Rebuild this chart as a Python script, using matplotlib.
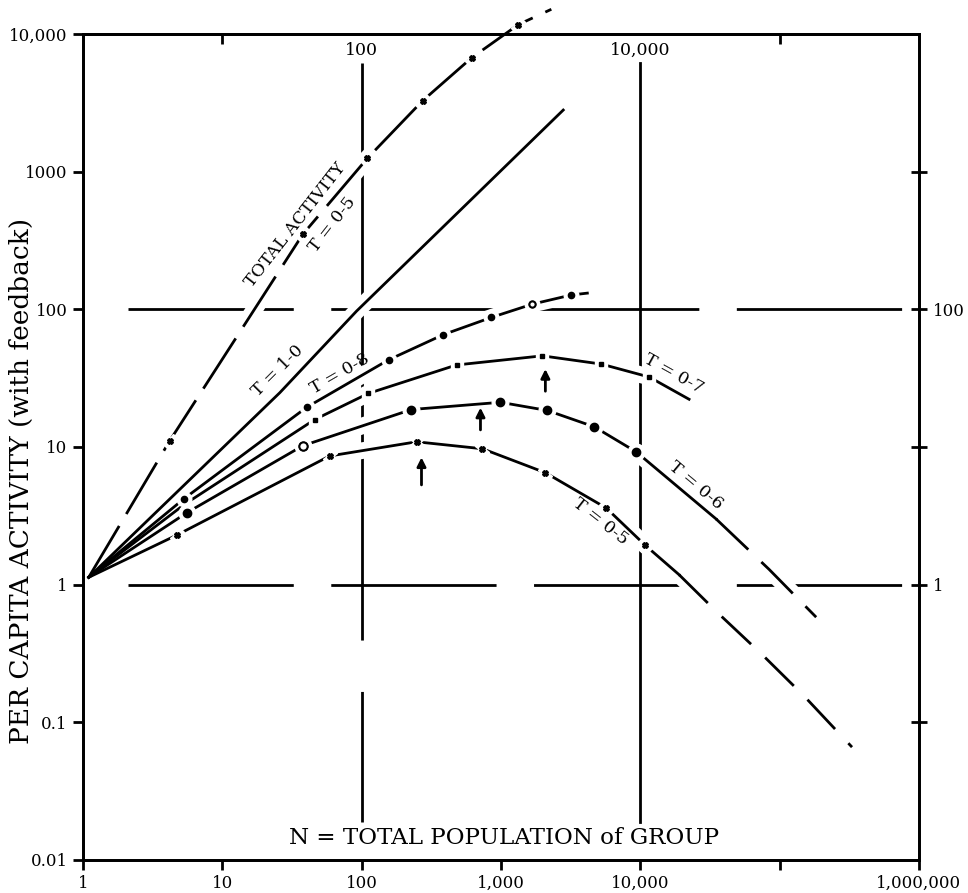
import matplotlib
matplotlib.use("Agg")
import matplotlib.pyplot as plt
from matplotlib.ticker import FixedLocator, FixedFormatter, NullLocator

plt.rcParams['font.family'] = ['DejaVu Serif']
plt.rcParams['lines.scale_dashes'] = False

# ---- data (N = population, y = per capita activity) ----
total_n = [1.1, 4.2, 37.8, 110, 274, 615, 1335, 2300]
total_y = [1.13, 11.1, 350, 1250, 3270, 6700, 11700, 15100]

t10_n = [1.1, 25.9, 92, 2800]
t10_y = [1.13, 24.8, 97, 2800]

t08_n = [1.1, 5.3, 40.3, 156, 387, 855, 1683, 3200, 4170]
t08_y = [1.13, 4.2, 19.4, 42.9, 65.5, 87.3, 109, 127, 131]

t07_n = [1.1, 5.3, 46, 112, 480, 1983, 5250, 11600, 22400]
t07_y = [1.13, 3.8, 15.8, 24.5, 39.4, 45.9, 40, 32.2, 22.2]

t06_n = [1.1, 5.57, 37.8, 228, 992, 2154, 4680, 9360, 35000]
t06_y = [1.13, 3.33, 10.2, 18.7, 21.1, 18.4, 14.0, 9.2, 3.0]
t06_tail_n = [35000, 84100, 183000]
t06_tail_y = [3.0, 1.29, 0.58]

t05_n = [1.1, 4.72, 59, 248, 737, 2084, 5700, 10860, 19000]
t05_y = [1.13, 2.29, 8.6, 10.9, 9.7, 6.5, 3.6, 1.93, 1.18]
t05_tail_n = [19000, 36200, 75000, 150000, 331000]
t05_tail_y = [1.18, 0.62, 0.31, 0.155, 0.066]

# arrows marking the maxima
arrow_n = [269, 713, 2084]
arrow_tip = [8.4, 19.3, 36.8]
arrow_tail = [5.3, 13.3, 25.4]

x_ticks = [1, 10, 100, 1000, 1e4, 1e5, 1e6]
x_tick_labels = ['1', '10', '100', '1,000', '10,000', '', '1,000,000']
y_ticks = [0.01, 0.1, 1, 10, 100, 1000, 1e4]
y_tick_labels = ['0.01', '0.1', '1', '10', '100', '1000', '10,000']
right_ticks = [0.1, 1, 10, 100, 1000]
right_tick_labels = ['', '1', '', '100', '']

ref_y = [100, 1]
ref_y_span = [2.1, 7.9e5]
ref_x = [100, 1e4]
ref_x_span = [0.019, 6100]

fig = plt.figure(figsize=(9.68, 8.93), dpi=100)
ax = fig.add_axes([0.0857, 0.037, 0.8636, 0.925])
ax.set_xscale('log')
ax.set_yscale('log')
ax.set_xlim(1, 1e6)
ax.set_ylim(0.01, 1e4)

# cross-hair reference lines (long dashes, broken where curves cross)
for yv in ref_y:
    ax.plot(ref_y_span, [yv, yv], color='k', lw=2, dashes=(119, 27), zorder=1)
ax.plot([ref_x[0]] * 2, ref_x_span, color='k', lw=2, dashes=(94, 37, 720, 10), zorder=1)
ax.plot([ref_x[1]] * 2, ref_x_span, color='k', lw=2, zorder=1)


def curve(n, y, marker=None, ms=5, idx=(), dashes=None, open_idx=(), clip=True):
    # white halo breaks the reference lines where a curve crosses them
    ax.plot(n, y, color='white', lw=12, zorder=2, solid_capstyle='butt')
    kw = dict(color='k', lw=2, zorder=3, clip_on=clip)
    if dashes:
        kw['dashes'] = dashes
    ax.plot(n, y, **kw)
    if marker:
        mn = [n[i] for i in idx]
        my = [y[i] for i in idx]
        ax.plot(mn, my, ls='none', marker=marker, ms=ms + 6, mfc='white',
                mec='white', zorder=3.5, clip_on=clip)
        ax.plot(mn, my, ls='none', marker=marker, ms=ms, mfc='k', mec='k',
                zorder=4, clip_on=clip)
        for i in open_idx:
            ax.plot(n[i], y[i], ls='none', marker='o', ms=ms, mfc='white',
                    mec='k', mew=1.5, zorder=5)


curve(total_n, total_y, marker='X', ms=4, idx=range(1, 7), dashes=(43, 10), clip=False)
curve(t10_n, t10_y)
curve(t08_n, t08_y, marker='o', ms=4.5, idx=range(1, 8), open_idx=[6])
curve(t07_n, t07_y, marker='s', ms=3.2, idx=range(2, 8))
curve(t06_n, t06_y, marker='o', ms=6, idx=range(1, 8), open_idx=[2])
curve(t06_tail_n, t06_tail_y, dashes=(32, 13))
curve(t05_n, t05_y, marker='X', ms=4, idx=range(1, 8))
curve(t05_tail_n, t05_tail_y, dashes=(29, 14))

for n, tip, tail in zip(arrow_n, arrow_tip, arrow_tail):
    ax.annotate('', xy=(n, tip), xytext=(n, tail),
                arrowprops=dict(arrowstyle='-|>', color='k', lw=2,
                                mutation_scale=13, shrinkA=0, shrinkB=0),
                zorder=5)

# curve labels
lab = dict(fontsize=12.5, ha='center', va='center', rotation_mode='anchor', zorder=6)
ax.text(33.6, 408, 'TOTAL ACTIVITY', rotation=52, **lab)
ax.text(62, 415, 'T = 0-5', rotation=52, **lab)
ax.text(25, 35.6, 'T = 1-0', rotation=45, **lab)
ax.text(69.6, 33.8, 'T = 0-8', rotation=30, **lab)
ax.text(17500, 33.8, 'T = 0-7', rotation=-29, **lab)
ax.text(25200, 5.26, 'T = 0-6', rotation=-40, **lab)
ax.text(5170, 2.86, 'T = 0-5', rotation=-38, **lab)

# inner top labels
ax.text(100, 7600, '100', fontsize=12.5, ha='center', va='center')
ax.text(1e4, 7600, '10,000', fontsize=12.5, ha='center', va='center')

ax.text(0.504, 0.027, 'N = TOTAL POPULATION of GROUP', transform=ax.transAxes,
        fontsize=16.6, ha='center', va='center')
ax.text(-0.074, 0.459, 'PER CAPITA ACTIVITY (with feedback)', transform=ax.transAxes,
        fontsize=19, ha='center', va='center', rotation=90)

ax.xaxis.set_major_locator(FixedLocator(x_ticks))
ax.xaxis.set_major_formatter(FixedFormatter(x_tick_labels))
ax.xaxis.set_minor_locator(NullLocator())
ax.yaxis.set_major_locator(FixedLocator(y_ticks))
ax.yaxis.set_major_formatter(FixedFormatter(y_tick_labels))
ax.yaxis.set_minor_locator(NullLocator())
ax.tick_params(direction='out', length=7, width=2, labelsize=12, pad=4)

ax2 = ax.twinx()
ax2.set_yscale('log')
ax2.set_ylim(0.01, 1e4)
ax2.yaxis.set_major_locator(FixedLocator(right_ticks))
ax2.yaxis.set_major_formatter(FixedFormatter(right_tick_labels))
ax2.yaxis.set_minor_locator(NullLocator())
ax2.tick_params(direction='inout', length=12, width=2, labelsize=12, pad=4)

top = ax.secondary_xaxis('top')
top.set_xticks([10, 1e5])
top.set_xticklabels(['', ''])
top.xaxis.set_minor_locator(NullLocator())
top.tick_params(direction='in', length=7, width=2)

for a in (ax, ax2):
    for s in a.spines.values():
        s.set_linewidth(2)
        s.set_zorder(6)
top.spines['top'].set_linewidth(2)

fig.savefig('out.png', dpi=100)
